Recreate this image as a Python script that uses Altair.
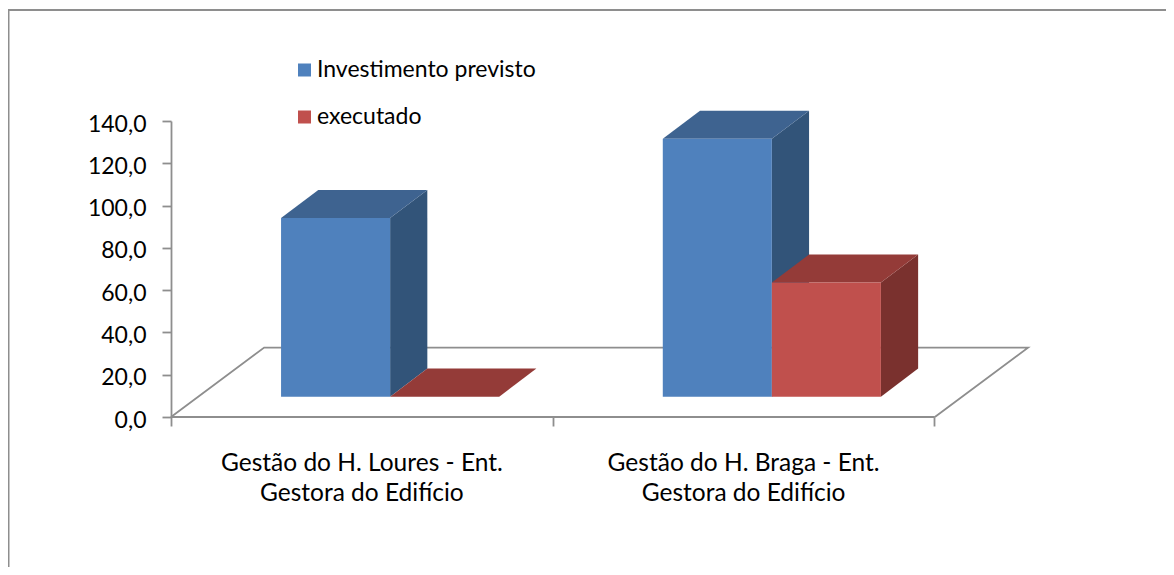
import altair as alt
import pandas as pd

# --- values
categories = ["Gestão do H. Loures - Ent.\nGestora do Edifício", "Gestão do H. Braga - Ent.\nGestora do Edifício"]
series_names = ["Investimento previsto", "executado"]
previsto = [84.5, 122.0]
executado = [0.0, 54.0]
y_ticks = [0, 20, 40, 60, 80, 100, 120, 140]
x_ticks = [0, 1, 2]

# --- pseudo-3D geometry, in axis units
X_MAX = 2.245          # right end of the floor
FLOOR_DX, FLOOR_DY = 0.244, 32.8   # full depth of the floor
BASE_DX, BASE_DY = 0.074, 9.6      # front face of the bars relative to the axis plane
BAR_W = 0.2857
DEPTH_DX, DEPTH_DY = 0.0975, 13.3  # depth of one bar

FONT = "Lato"
TEXT = "#000000"
AXIS_GREY = "#8E8E8E"
COLORS = {
    series_names[0]: dict(front="#4F81BD", side="#325479", top="#3E6390"),
    series_names[1]: dict(front="#C0504D", side="#7A312E", top="#943B38"),
}

x_scale = alt.Scale(domain=[0, X_MAX], nice=False, zero=False)
y_scale = alt.Scale(domain=[0, 140], nice=False, zero=False)

x_axis = alt.Axis(
    values=x_ticks, labels=False, domain=False, grid=False,
    ticks=True, tickColor=AXIS_GREY, tickWidth=1.8, tickSize=9, title=None,
)
y_axis = alt.Axis(
    values=y_ticks, grid=False, domain=True, domainColor=AXIS_GREY, domainWidth=1.8,
    ticks=True, tickColor=AXIS_GREY, tickWidth=1.8, tickSize=9,
    labelFont=FONT, labelFontSize=23, labelColor=TEXT, labelPadding=16, labelOffset=3, title=None,
    labelExpr="replace(format(datum.value, '.1f'), '.', ',')",
)


def xe(field="x"):
    return alt.X(f"{field}:Q", scale=x_scale, axis=x_axis)


def ye(field="y"):
    return alt.Y(f"{field}:Q", scale=y_scale, axis=y_axis)


# --- tables derived from the value lists
front_rows, side_rows, top_rows = [], [], []
for si, (name, values) in enumerate(zip(series_names, [previsto, executado])):
    for ci, v in enumerate(values):
        x0 = ci + 0.5 + BASE_DX + (si - 1) * BAR_W
        x1 = x0 + BAR_W
        b = BASE_DY
        t = BASE_DY + v
        front_rows.append(dict(serie=name, x=x0, x2=x1, y=b, y2=t))
        side_rows += [
            dict(serie=name, g=ci, x=x1, y=t, y2=b),
            dict(serie=name, g=ci, x=x1 + DEPTH_DX, y=t + DEPTH_DY, y2=b + DEPTH_DY),
        ]
        top_rows += [
            dict(serie=name, g=ci, x=x0, y=t, y2=t),
            dict(serie=name, g=ci, x=x0 + DEPTH_DX, y=t + DEPTH_DY, y2=t),
            dict(serie=name, g=ci, x=x1, y=t + DEPTH_DY, y2=t),
            dict(serie=name, g=ci, x=x1 + DEPTH_DX, y=t + DEPTH_DY, y2=t + DEPTH_DY),
        ]
front = pd.DataFrame(front_rows)
side = pd.DataFrame(side_rows)
top = pd.DataFrame(top_rows)

floor = pd.DataFrame(
    dict(
        i=[0, 1, 2, 3],
        x=[0, FLOOR_DX, X_MAX, X_MAX - FLOOR_DX],
        y=[0, FLOOR_DY, FLOOR_DY, 0],
    )
)
front_edge = pd.DataFrame(dict(x=[0], x2=[X_MAX - FLOOR_DX], y=[0]))
cats = pd.DataFrame(dict(x=[0.5, 1.5], label=categories))
frame_df = pd.DataFrame(dict(k=[0]))

# --- layers
frame = (
    alt.Chart(frame_df)
    .mark_rect(fillOpacity=0, stroke=AXIS_GREY, strokeWidth=2)
    .encode(x=alt.value(-162.5), x2=alt.value(1400), y=alt.value(-111), y2=alt.value(900))
)

floor_line = (
    alt.Chart(floor)
    .mark_line(color=AXIS_GREY, strokeWidth=1.8, clip=False)
    .encode(x=xe(), y=ye(), order="i:Q")
)
edge = (
    alt.Chart(front_edge)
    .mark_rule(color=AXIS_GREY, strokeWidth=1.8)
    .encode(x=xe(), x2="x2:Q", y=ye())
)

color_scale = alt.Scale(domain=series_names, range=[COLORS[n]["front"] for n in series_names])
legend = alt.Legend(
    title=None, orient="none", legendX=122, legendY=-62.5, symbolType="square", symbolSize=169,
    symbolStrokeWidth=0, labelFont=FONT, labelFontSize=23, labelColor=TEXT,
    rowPadding=23, labelOffset=1, labelLimit=400,
)

layers = [frame, floor_line, edge]
for name in series_names:
    c = COLORS[name]
    layers.append(
        alt.Chart(side[side.serie == name]).mark_area(color=c["side"])
        .encode(x=xe(), y=ye(), y2="y2:Q", detail="g:N")
    )
    layers.append(
        alt.Chart(top[top.serie == name]).mark_area(color=c["top"])
        .encode(x=xe(), y=ye(), y2="y2:Q", detail="g:N")
    )
    layers.append(
        alt.Chart(front[front.serie == name]).mark_rect()
        .encode(
            x=xe(), x2="x2:Q", y=ye(), y2="y2:Q",
            color=alt.Color("serie:N", scale=color_scale, legend=legend),
        )
    )

labels = (
    alt.Chart(cats)
    .mark_text(font=FONT, fontSize=24.5, color=TEXT, lineBreak="\n", lineHeight=30, baseline="middle", align="center")
    .encode(x=xe(), y=alt.value(343), text="label:N")
)
layers.append(labels)

chart = (
    alt.layer(*layers)
    .properties(
        width=857, height=296,
        autosize=alt.AutoSizeParams(type="none"),
        padding={"left": 163, "top": 113, "right": 138, "bottom": 150},
        background="#FFFFFF",
    )
    .configure_view(stroke=None)
)

chart.save("out.html", embed_options={"renderer": "svg", "actions": False})
